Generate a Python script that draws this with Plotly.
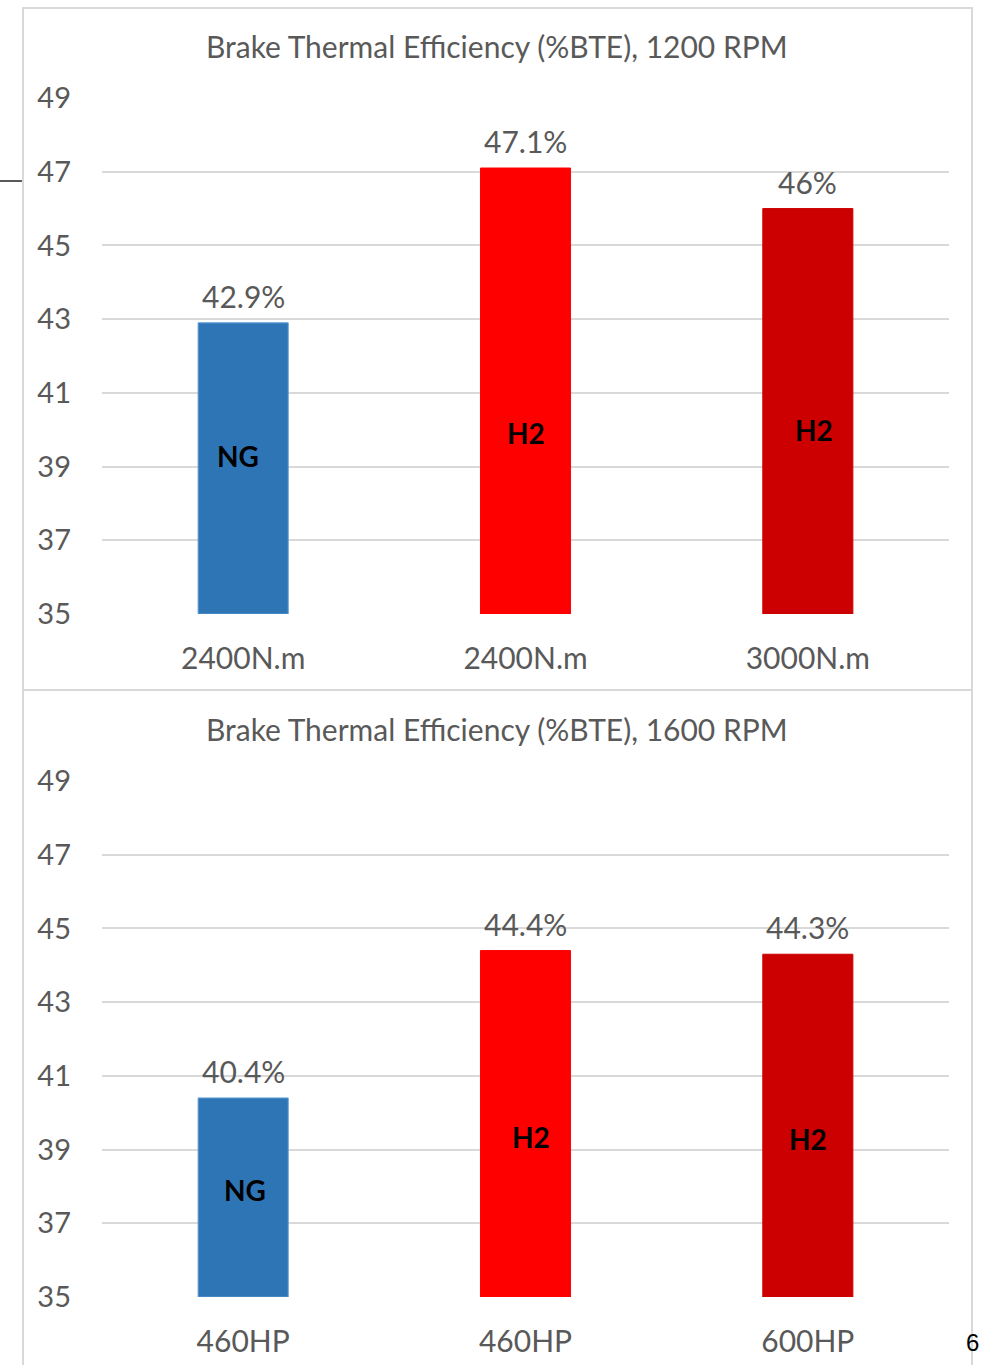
import plotly.graph_objects as go

# Brake thermal efficiency, natural gas vs hydrogen, at two engine speeds
titles = ["Brake Thermal Efficiency (%BTE), 1200 RPM",
          "Brake Thermal Efficiency (%BTE), 1600 RPM"]
load_1200 = ["2400N.m", "2400N.m", "3000N.m"]
bte_1200 = [42.9, 47.1, 46.0]
label_1200 = ["42.9%", "47.1%", "46%"]
load_1600 = ["460HP", "460HP", "600HP"]
bte_1600 = [40.4, 44.4, 44.3]
label_1600 = ["40.4%", "44.4%", "44.3%"]
fuel = ["NG", "H2", "H2"]
y_ticks = [35, 37, 39, 41, 43, 45, 47, 49]

bar_colors = ["#2E75B6", "#FF0000", "#CC0000"]
bar_edges = ["#5B9BD5", "#FF0000", "#CC0000"]
# fuel tag placement inside each bar: (x offset in px, y in data units)
tag_pos_1200 = [(-5, 39.3), (0, 39.9), (6, 40.0)]
tag_pos_1600 = [(2, 37.9), (5, 39.35), (0, 39.3)]

W, H = 982, 1365
TXT = "#595959"
GRID = "#D9D9D9"
FONT = "Lato"

def px(x):
    return x / W

def py(y):
    return 1 - y / H

fig = go.Figure()
xs = [0, 1, 2]

panels = [
    (load_1200, bte_1200, label_1200, tag_pos_1200, "x", "y", (614, 98), 46),
    (load_1600, bte_1600, label_1600, tag_pos_1600, "x2", "y2", (1297, 781), 729),
]

annotations = []
for i, (cats, vals, labs, tags, xa, ya, (ybot, ytop), title_y) in enumerate(panels):
    fig.add_trace(go.Bar(
        x=xs, y=[v - 35 for v in vals], base=35, width=0.319,
        marker=dict(color=bar_colors, line=dict(color=bar_edges, width=1)),
        xaxis=xa, yaxis=ya, showlegend=False, hoverinfo="skip",
    ))
    for xi, v, lab in zip(xs, vals, labs):
        annotations.append(dict(
            x=xi, y=v, xref=xa, yref=ya, text=lab, showarrow=False,
            yanchor="middle", yshift=27,
            font=dict(family=FONT, size=30, color=TXT)))
    for xi, f, (dx, ty) in zip(xs, fuel, tags):
        annotations.append(dict(
            x=xi, y=ty, xref=xa, yref=ya, text="<b>%s</b>" % f, showarrow=False,
            xshift=dx, yanchor="middle",
            font=dict(family=FONT, size=28, color="#000000")))
    annotations.append(dict(
        x=px(497), y=py(title_y), xref="paper", yref="paper", text=titles[i],
        showarrow=False, xanchor="center", yanchor="middle",
        font=dict(family=FONT, size=30, color=TXT)))

    axis_x = dict(
        domain=[px(102), px(949)], range=[-0.5, 2.5], automargin=False,
        tickvals=xs, ticktext=cats, showgrid=False, zeroline=False,
        showline=False, ticks="", ticklabelstandoff=24,
        tickfont=dict(family=FONT, size=30, color=TXT), fixedrange=True,
    )
    axis_y = dict(
        domain=[py(ybot), py(ytop)], range=[35, 49], tickvals=y_ticks,
        automargin=False,
        showgrid=True, gridcolor=GRID, gridwidth=2, zeroline=False,
        showline=False, ticks="", ticklabelstandoff=30,
        tickfont=dict(family=FONT, size=29, color=TXT), fixedrange=True,
    )
    if i == 0:
        fig.update_layout(xaxis=dict(axis_x, anchor="y"), yaxis=dict(axis_y, anchor="x"))
    else:
        fig.update_layout(xaxis2=dict(axis_x, anchor="y2"), yaxis2=dict(axis_y, anchor="x2"))

# page number at the bottom right
annotations.append(dict(
    x=px(981), y=py(1342), xref="paper", yref="paper", text="6",
    showarrow=False, xanchor="right", yanchor="middle",
    font=dict(family="Liberation Sans", size=24, color="#000000")))

shapes = [
    # panel frames
    dict(type="rect", xref="paper", yref="paper", x0=px(23), x1=px(972),
         y0=py(690), y1=py(8), line=dict(color=GRID, width=2), layer="below"),
    dict(type="rect", xref="paper", yref="paper", x0=px(23), x1=px(972),
         y0=py(1380), y1=py(690), line=dict(color=GRID, width=2), layer="below"),
    # short rule at the left margin
    dict(type="line", xref="paper", yref="paper", x0=0, x1=px(22),
         y0=py(181), y1=py(181), line=dict(color="#595959", width=2)),
]

fig.update_layout(
    width=W, height=H, margin=dict(l=0, r=0, t=0, b=0, autoexpand=False),
    paper_bgcolor="white", plot_bgcolor="rgba(0,0,0,0)",
    bargap=0.68, annotations=annotations, shapes=shapes,
)

fig.write_html("out.html")
